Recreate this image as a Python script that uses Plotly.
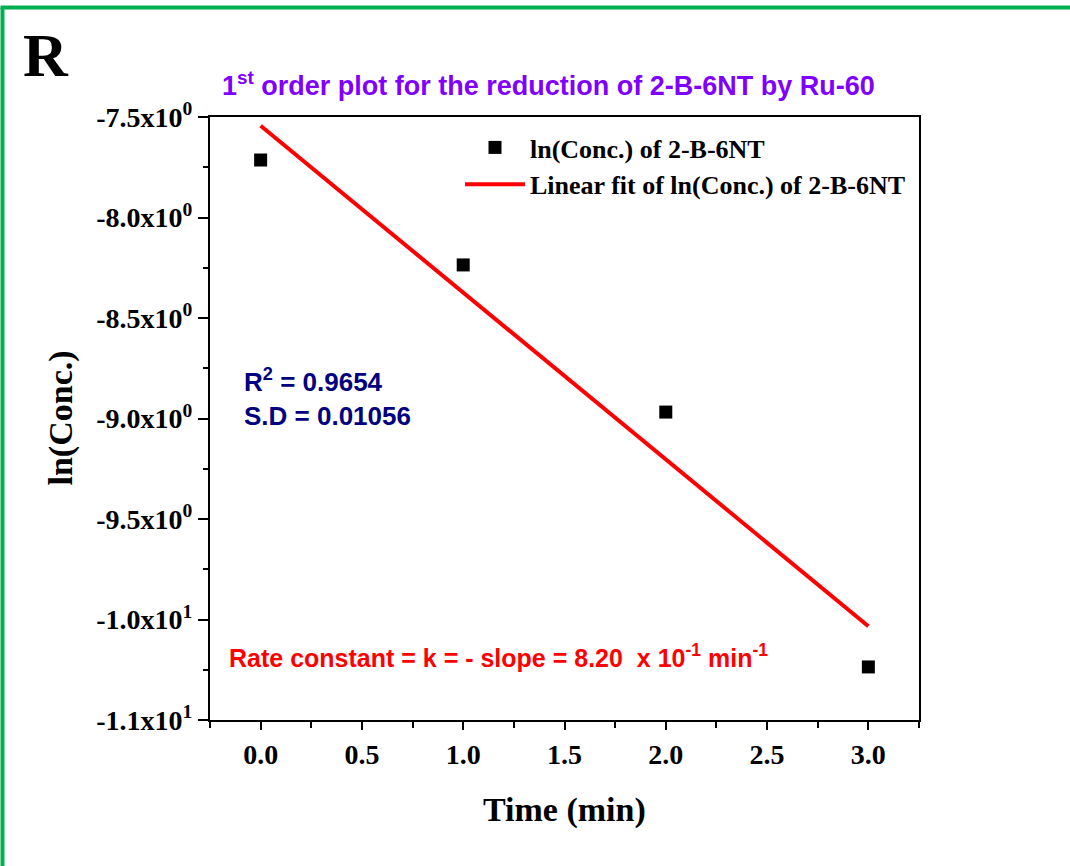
import plotly.graph_objects as go
import numpy as np

# ---- data ----
time_min = [0.0, 1.0, 2.0, 3.0]
ln_conc = [-7.714, -8.236, -8.968, -10.236]

y_tickvals = [-7.5, -8.0, -8.5, -9.0, -9.5, -10.0, -10.5]
y_ticktext = ["-7.5x10<sup>0</sup>", "-8.0x10<sup>0</sup>", "-8.5x10<sup>0</sup>",
              "-9.0x10<sup>0</sup>", "-9.5x10<sup>0</sup>", "-1.0x10<sup>1</sup>",
              "-1.1x10<sup>1</sup>"]
y_minor = [-7.75, -8.25, -8.75, -9.25, -9.75, -10.25]
x_tickvals = [0.0, 0.5, 1.0, 1.5, 2.0, 2.5, 3.0]
x_ticktext = ["0.0", "0.5", "1.0", "1.5", "2.0", "2.5", "3.0"]

# linear fit
slope, intercept = np.polyfit(time_min, ln_conc, 1)
fit_x = [min(time_min), max(time_min)]
fit_y = [slope * v + intercept for v in fit_x]

SERIF = "Liberation Serif"
SANS = "Liberation Sans"

W, H = 1070, 866
L, R, T, B = 210, 151, 117, 146
pw, ph = W - L - R, H - T - B

def px(xp):
    return (xp - L) / pw

def py(yp):
    return (H - B - yp) / ph

fig = go.Figure()
fig.add_trace(go.Scatter(
    x=time_min, y=ln_conc, mode="markers",
    marker=dict(symbol="square", size=13, color="black"),
    name="ln(Conc.) of 2-B-6NT"))
fig.add_trace(go.Scatter(
    x=fit_x, y=fit_y, mode="lines",
    line=dict(color="#ff0000", width=4),
    name="Linear fit of ln(Conc.) of 2-B-6NT"))

fig.update_layout(
    width=W, height=H,
    margin=dict(l=L, r=R, t=T, b=B),
    paper_bgcolor="white", plot_bgcolor="white",
    showlegend=True,
    legend=dict(x=px(460), y=py(124), xanchor="left", yanchor="top",
                bgcolor="rgba(0,0,0,0)",
                font=dict(family=SERIF, size=26, color="black", weight="bold"),
                tracegroupgap=0, itemwidth=60),
)

fig.update_xaxes(
    range=[-0.25, 3.25], showgrid=False, zeroline=False,
    showline=True, linecolor="black", linewidth=2, mirror=True,
    ticks="outside", ticklen=8, tickwidth=2, tickcolor="black",
    tickmode="array", tickvals=x_tickvals, ticktext=x_ticktext,
    tickfont=dict(family=SERIF, size=28, color="black", weight="bold"),
    minor=dict(tickmode="linear", tick0=0, dtick=0.25, ticks="outside",
               ticklen=6, tickwidth=2, tickcolor="black", showgrid=False),
)
fig.update_yaxes(
    range=[-10.5, -7.5], showgrid=False, zeroline=False,
    showline=True, linecolor="black", linewidth=2, mirror=True,
    ticks="outside", ticklen=10, tickwidth=2, tickcolor="black",
    tickmode="array", tickvals=y_tickvals, ticktext=y_ticktext,
    tickfont=dict(family=SERIF, size=28, color="black", weight="bold"),
    minor=dict(tickmode="array", tickvals=y_minor, ticks="outside",
               ticklen=5, tickwidth=2, tickcolor="black", showgrid=False),
)

annotations = [
    dict(text="R", x=px(46), y=py(55), xref="paper", yref="paper",
         xanchor="center", yanchor="middle",
         showarrow=False, font=dict(family=SERIF, size=62, color="black", weight="bold")),
    dict(text="1<sup>st</sup> order plot for the reduction of 2-B-6NT by Ru-60",
         x=px(548), y=py(84), xref="paper", yref="paper", showarrow=False,
         xanchor="center", yanchor="middle",
         font=dict(family=SANS, size=27, color="#8000ff", weight="bold")),
    dict(text="ln(Conc.)", x=px(60), y=0.5, xref="paper", yref="paper",
         xanchor="center", yanchor="middle",
         textangle=-90, showarrow=False,
         font=dict(family=SERIF, size=34, color="black", weight="bold")),
    dict(text="Time (min)", x=0.5, y=py(810), xref="paper", yref="paper",
         xanchor="center", yanchor="middle",
         showarrow=False,
         font=dict(family=SERIF, size=34, color="black", weight="bold")),
    dict(text="R<sup>2</sup> = 0.9654<br>S.D = 0.01056", x=px(242), y=py(362),
         xref="paper", yref="paper", xanchor="left", yanchor="top", align="left",
         showarrow=False,
         font=dict(family=SANS, size=26, color="#000080", weight="bold")),
    dict(text="Rate constant = k = - slope = 8.20  x 10<sup>-1</sup> min<sup>-1</sup>",
         x=px(227), y=py(656), xref="paper", yref="paper",
         xanchor="left", yanchor="middle",
         showarrow=False,
         font=dict(family=SANS, size=25, color="#ff0000", weight="bold")),
]
fig.update_layout(annotations=annotations)

# green frame (left and top edges)
green = "#00b050"
fig.add_shape(type="line", xref="paper", yref="paper",
              x0=px(2.5), x1=px(2.5), y0=py(H + 5), y1=py(7.5),
              line=dict(color=green, width=4))
fig.add_shape(type="line", xref="paper", yref="paper",
              x0=px(0.5), x1=px(W + 5), y0=py(7.5), y1=py(7.5),
              line=dict(color=green, width=4))

fig.write_html("out.html")
